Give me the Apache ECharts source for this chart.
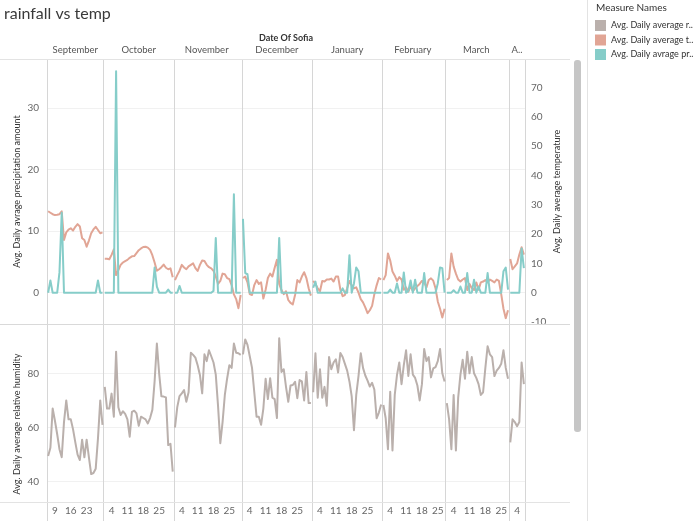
<!DOCTYPE html>
<html><head><meta charset="utf-8">
<script src="https://cdn.jsdelivr.net/npm/echarts@6/dist/echarts.min.js"></script>
<style>html,body{margin:0;padding:0;background:#fff}#c{width:700px;height:521px}</style>
</head><body><div id="c"></div>
<script>
// ---- data ----
const monthNames = ['September','October','November','December','January','February','March','April'];
const monthHeaders = ['September','October','November','December','January','February','March','A..'];
const monthFirstDay = [6,1,1,1,1,1,1,1];
const monthLastDay = [30,31,30,31,31,28,28,7];
const dayTickLabels = [[9,16,23],[4,11,18,25],[4,11,18,25],[4,11,18,25],[4,11,18,25],[4,11,18,25],[4,11,18,25],[4]];

const measureNames = ['Avg. Daily average relative humidity','Avg. Daily average temperature','Avg. Daily avrage precipitation amount'];
const legendLabels = ['Avg. Daily average r..','Avg. Daily average t..','Avg. Daily avrage pr..'];

const humidity = [
 // Sep 6-30
 49.5,52.5,67,62.5,57.5,52,49,62,70,63,63,59.3,54.5,50,48,55.5,49,55.5,49,42.8,43.2,44.8,56,70,61,
 // Oct
 75,67,67,72.5,64,88,67.5,64.6,66,65,63,56.6,65.8,66.2,65.2,60.6,64,63.5,63,61.5,63.5,66.5,77,91,80,71.5,71.4,71.1,53.5,54,43.7,
 // Nov
 60,67.5,71.6,72.6,73.8,69.5,73,87.6,86.8,85.8,83,79.4,72.6,87,84.5,88.5,86.3,84,79.5,68,54.2,62,72,78,83,82,91,87.6,87.4,86.8,
 // Dec
 87,92.5,90.5,86.3,82,73,64,64,61,67,78,70.5,78.2,71,70.5,63.5,92.9,80.5,81.5,75,69.5,75.5,75.7,76.9,70.8,77.5,77,70,80.5,69,69,
 // Jan
 73,87.4,71,81.5,71,75,68,86,81.5,84,85.2,80.3,87.5,86,83.5,81,77,71.5,59,72,79,87.4,82,79.2,77.3,75.1,76.5,74,63.4,65.5,68.5,
 // Feb
 68.3,63.4,52,73.2,51.5,72,79.4,84,76,83,88.5,79,87,79.5,78.3,75.5,70,76,89,84.5,86,78.5,81.8,82.3,84.5,89,80,77,
 // Mar 1-28
 69,63,52,72,51.5,71,79.5,85,78,88,80,86,80,78.3,76,72,73,82,90,87,86,79,81,82,83.5,88.5,82,78,
 // Apr 1-7
 54.5,63,62,60.5,62,84,76
];
const temperature = [
 27.8,27.3,26.8,26.5,26.6,26.8,27.8,18.0,20.6,21.5,22.0,21.2,22.5,23.4,22.6,18.6,18.0,15.7,17.8,20.3,21.6,22.5,21.4,20.3,20.6,
 11.6,11.6,11.4,12.9,14.8,6.0,7.7,9.5,10.3,10.8,11.2,11.9,12.4,12.5,13.5,14.5,15.1,15.6,15.7,15.4,14.6,12.8,10.3,7.5,8.0,8.7,9.6,8.5,8.0,8.3,5.3,
 4.3,6.0,7.5,9.5,8.6,8.0,9.0,9.5,10.0,8.4,7.4,9.5,11.0,10.8,9.5,8.7,8.3,7.5,5.5,3.0,4.0,6.5,6.3,5.0,4.6,2.6,-0.6,-2.2,-5.3,-0.8,
 5.0,5.5,3.5,-0.5,-0.8,2.6,4.3,3.0,3.5,-2.0,1.0,5.0,6.5,5.5,8.5,11.2,3.0,0.9,-0.5,0.5,-2.5,-3.5,-4.0,-0.8,4.3,3.5,5.5,7.0,5.0,1.5,-1.0,
 4.0,3.0,1.5,0.5,4.0,3.8,4.5,4.5,4.8,3.8,5.5,5.5,1.0,-1.2,-0.8,1.5,4.0,2.5,1.5,1.8,0.0,-2.2,-3.3,-5.0,-7.0,-6.0,-4.5,-0.5,2.5,5.0,4.5,
 4.3,6.0,13.4,11.0,7.2,5.8,4.0,5.3,4.5,1.0,1.8,0.3,2.3,0.5,1.5,2.3,3.0,4.0,3.5,1.8,4.3,4.9,4.1,1.5,-3.0,-5.5,-8.5,-5.5,
 4.3,5.0,13.4,8.9,6.5,4.5,3.8,4.5,5.0,0.9,3.0,1.5,0.9,3.5,1.0,3.5,3.8,4.3,3.5,4.5,4.0,3.5,4.5,4.0,-0.5,-5.5,-8.7,-6.0,
 11.5,8.0,9.0,10.0,13.0,15.5,13.0
];
const precipitation = [
 0,2.0,0,0,0,3.3,13.0,0,0,0,0,0,0,0,0,0,0,0,0,0,0,0,2.0,0,0,
 0,0,0,0,0,36.0,0,0,0,0,0,0,0,0,0,0,0,0,0,0,0,0,4.1,1.0,0,0,0,0,0.5,0,0,
 0,0,1.1,0,0,0,0,0,0,0,0,0,0,0,0,0,0,0.3,8.9,0,0,0,0,0,0,0,16.0,0,0,0,
 12.0,3.2,3.0,0,0,0,0,0,0,0,0,0,0,0,0,0,8.9,0,0,0,0,0,0,0,0,0,0,0,0,0,0,
 0.8,1.8,0,0,0,0,0,0,0,0,0,0,0,0.7,0,0,6.1,0,1.5,4.1,3.5,0,0,0,0,0,0,0,0,0,0,
 0,0,0,0.5,0,0,1.5,0,0,3.3,0,0.3,2.0,0,2.1,0,0,0,3.2,0,0,0,0,0,1.5,4.1,4.0,0,
 0,0,0,0.4,0,0,1.0,0,0,3.2,0,0,2.1,0,1.0,0,0,0,3.2,0,0,0,0,0,0,3.5,4.1,0.5,
 0,0,0,0,0,7.2,4.0
];

// ---- layout / style ----
const FONT = 'Lato, "Open Sans", sans-serif';
const X0 = 47, X1 = 525, Y_TOP = 59, Y_MID = 324, Y_BOT = 502;
const COLORS = ['#bab0ac', '#e1a595', '#86cdc9'];
const VLINE = '#d6d6d6', HLINE = '#e3e3e3', GRIDC = '#f1f1f1';

// categories
const cats = [], monthOf = [], dayOf = [];
monthNames.forEach((m, mi) => {
  for (let d = monthFirstDay[mi]; d <= monthLastDay[mi]; d++) {
    cats.push(m + ' ' + d); monthOf.push(mi); dayOf.push(d);
  }
});
const monthStart = new Set(), monthCenter = new Set();
monthNames.forEach((m, mi) => {
  const idx = monthOf.map((v, i) => v === mi ? i : -1).filter(i => i >= 0);
  monthStart.add(idx[0]);
  monthCenter.add(idx[Math.floor((idx.length - 1) / 2)]);
});
const isStart = i => monthStart.has(i);
const isCenter = i => monthCenter.has(i);
const isDayLabel = i => dayTickLabels[monthOf[i]].includes(dayOf[i]);

function splitByMonth(values, name, color, xi, yi, z) {
  return monthNames.map((m, mi) => ({
    type: 'line', name: name, xAxisIndex: xi, yAxisIndex: yi, z: z,
    data: values.map((v, i) => monthOf[i] === mi ? v : null),
    symbol: 'none', connectNulls: false, silent: true,
    itemStyle: {color: color},
    lineStyle: {color: color, width: 2, join: 'round'}
  }));
}

const series = [].concat(
  splitByMonth(humidity, measureNames[0], COLORS[0], 1, 2, 2),
  splitByMonth(temperature, measureNames[1], COLORS[1], 0, 1, 3),
  splitByMonth(precipitation, measureNames[2], COLORS[2], 0, 0, 4)
);

const labelText = {fontFamily: FONT, color: '#666', fontSize: 10};
const nameText = {fontFamily: FONT, color: '#333', fontSize: 9};

const option = {
  animation: false,
  textStyle: {fontFamily: FONT},
  grid: [
    {left: X0, width: X1 - X0, top: Y_TOP, height: Y_MID - Y_TOP, containLabel: false},
    {left: X0, width: X1 - X0, top: Y_MID, height: Y_BOT - Y_MID, containLabel: false}
  ],
  xAxis: [
    {gridIndex: 0, type: 'category', data: cats, position: 'top', boundaryGap: true,
     axisLine: {show: false},
     axisTick: {show: true, interval: isStart, length: Y_TOP - 42, lineStyle: {color: VLINE}},
     axisLabel: {interval: isCenter, formatter: (v, i) => monthHeaders[monthOf[i]], margin: 4, fontSize: 9.5, fontFamily: FONT, color: '#555'},
     splitLine: {show: true, interval: isStart, lineStyle: {color: VLINE, width: 1}}},
    {gridIndex: 1, type: 'category', data: cats, position: 'bottom', boundaryGap: true,
     axisLine: {show: false},
     axisTick: {show: true, interval: isStart, length: 19, lineStyle: {color: VLINE}},
     axisLabel: Object.assign({interval: isDayLabel, formatter: (v, i) => String(dayOf[i]), margin: 4}, labelText),
     splitLine: {show: true, interval: isStart, lineStyle: {color: VLINE, width: 1}}}
  ],
  yAxis: [
    {gridIndex: 0, type: 'value', position: 'left', min: -5.09, max: 38.0, splitNumber: 4,
     axisLine: {show: false}, axisTick: {show: false},
     axisLabel: Object.assign({showMinLabel: false, showMaxLabel: false, formatter: v => (Math.abs(v % 10) < 1e-6 ? String(v) : ''), margin: 8}, labelText),
     splitLine: {show: true, lineStyle: {color: GRIDC}},
     name: measureNames[2], nameLocation: 'middle', nameGap: 25, nameMoveOverlap: false, nameTextStyle: nameText},
    {gridIndex: 0, type: 'value', position: 'right', min: -10.7, max: 79.8, splitNumber: 9,
     axisLine: {show: false}, axisTick: {show: false},
     axisLabel: Object.assign({showMinLabel: false, showMaxLabel: false, formatter: v => (Math.abs(v % 10) < 1e-6 ? String(v) : ''), margin: 6}, labelText),
     splitLine: {show: false},
     name: measureNames[1], nameLocation: 'middle', nameGap: 28, nameMoveOverlap: false, nameRotate: 90, nameTextStyle: nameText},
    {gridIndex: 1, type: 'value', position: 'left', min: 32.5, max: 98.2, splitNumber: 3,
     axisLine: {show: false}, axisTick: {show: false},
     axisLabel: Object.assign({showMinLabel: false, showMaxLabel: false, formatter: v => (Math.abs(v % 20) < 1e-6 ? String(v) : ''), margin: 8}, labelText),
     splitLine: {show: true, lineStyle: {color: GRIDC}},
     name: measureNames[0], nameLocation: 'middle', nameGap: 25, nameMoveOverlap: false,
     nameTextStyle: Object.assign({padding: [0, 22, 0, 0]}, nameText)}
  ],
  legend: {
    orient: 'vertical', left: 595, top: 20, padding: 0, itemWidth: 11, itemHeight: 11, itemGap: 3.5,
    icon: 'rect', data: measureNames.slice(), selectedMode: false,
    formatter: n => legendLabels[measureNames.indexOf(n)],
    textStyle: {fontFamily: FONT, fontSize: 9, color: '#333'}
  },
  graphic: [
    {type: 'text', left: 4, top: 6, style: {text: 'rainfall vs temp', font: '16px ' + FONT, fill: '#3a3a3a'}},
    {type: 'text', x: (X0 + X1) / 2, y: 38, style: {text: 'Date Of Sofia', font: 'bold 9px ' + FONT, fill: '#333', align: 'center', verticalAlign: 'middle'}},
    {type: 'line', shape: {x1: 0, y1: Y_TOP + 0.5, x2: 570, y2: Y_TOP + 0.5}, style: {stroke: HLINE, lineWidth: 1}, z: 1},
    {type: 'line', shape: {x1: 0, y1: Y_MID + 0.5, x2: 570, y2: Y_MID + 0.5}, style: {stroke: '#d9d9d9', lineWidth: 1}, z: 1},
    {type: 'line', shape: {x1: 0, y1: Y_BOT + 0.5, x2: 570, y2: Y_BOT + 0.5}, style: {stroke: HLINE, lineWidth: 1}, z: 1},
    {type: 'line', shape: {x1: 587.5, y1: 0, x2: 587.5, y2: 521}, style: {stroke: '#e3e3e3', lineWidth: 1}},
    {type: 'rect', shape: {x: 574, y: 60, width: 7, height: 372, r: 3}, style: {fill: '#c6c6c6'}},
    {type: 'text', left: 596, top: 3, style: {text: 'Measure Names', font: '10px ' + FONT, fill: '#333'}}
  ],
  series: series
};

const chart = echarts.init(document.getElementById('c'), null, {renderer: 'canvas'});
chart.setOption(option);
</script></body></html>
